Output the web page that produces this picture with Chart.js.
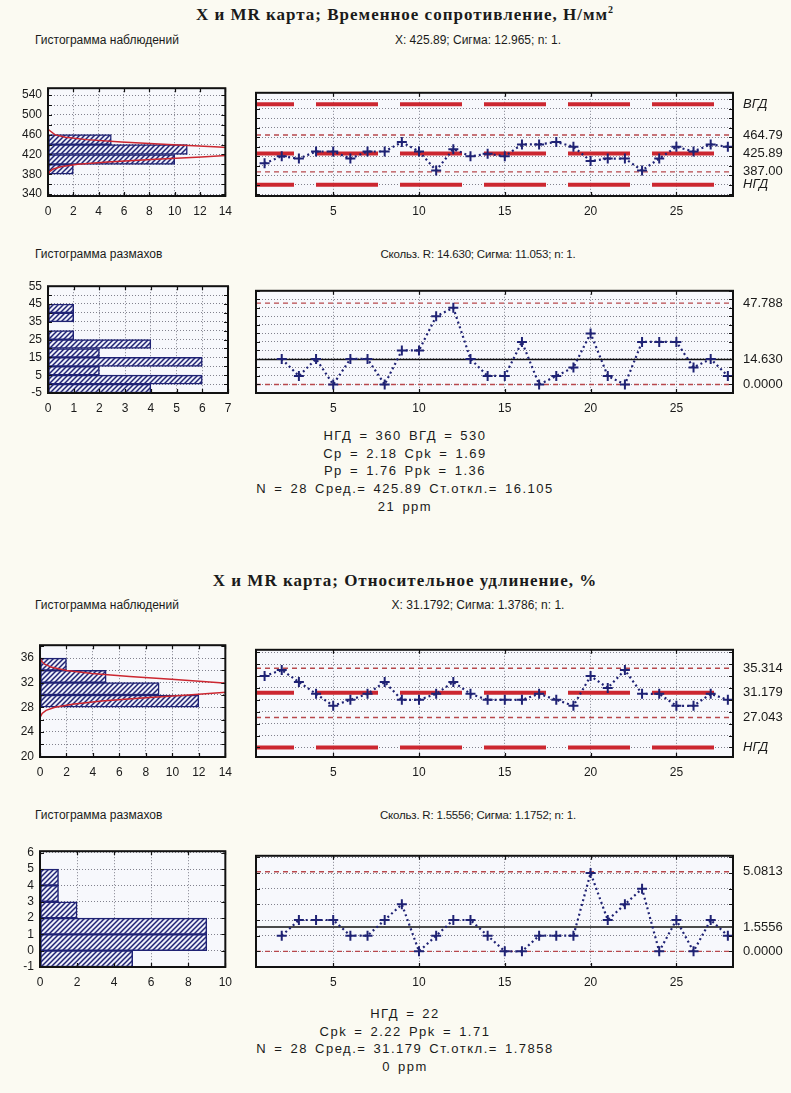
<!DOCTYPE html>
<html lang="ru">
<head>
<meta charset="utf-8">
<title>X и MR карта</title>
<script src="https://cdn.jsdelivr.net/npm/chart.js@4.4.1/dist/chart.umd.min.js"></script>
<style>
  body { margin: 0; background: #fbfaf2; font-family: "Liberation Sans", Arial, sans-serif; color: #1a1a1a; }
  #page { position: relative; width: 791px; height: 1093px; overflow: hidden; }
  canvas { position: absolute; }
  .t { position: absolute; white-space: nowrap; }
  .title { left: 0; width: 810px; text-align: center; font-family: "Liberation Serif", serif; font-weight: bold; font-size: 17px; line-height: 17px; letter-spacing: 1px; }
  .title sup { font-size: 10px; line-height: 0; }
  .sub { font-size: 12px; line-height: 12px; }
  .subr { font-size: 12px; line-height: 12px; text-align: center; left: 375px; width: 206px; }
  .subr.r { font-size: 11.5px; letter-spacing: -0.2px; }
  .stat { left: 0; width: 810px; text-align: center; font-size: 13px; line-height: 13px; letter-spacing: 1.5px; word-spacing: 2px; }
</style>
</head>
<body>
<div id="page">
  <div class="t title" style="top:6px">X и MR карта; Временное сопротивление, Н/мм<sup>2</sup></div>
  <div class="t sub" style="left:35px; top:34px">Гистограмма наблюдений</div>
  <div class="t subr" style="top:34px">X: 425.89; Сигма: 12.965; n: 1.</div>
  <div class="t sub" style="left:35px; top:248px">Гистограмма размахов</div>
  <div class="t subr r" style="top:248px">Скольз. R: 14.630; Сигма: 11.053; n: 1.</div>
  <div class="t stat" style="top:429px">НГД = 360 ВГД = 530</div>
  <div class="t stat" style="top:447px">Cp = 2.18 Cpk = 1.69</div>
  <div class="t stat" style="top:464px">Pp = 1.76 Ppk = 1.36</div>
  <div class="t stat" style="top:482px">N = 28 Сред.= 425.89 Ст.откл.= 16.105</div>
  <div class="t stat" style="top:500px">21 ppm</div>

  <div class="t title" style="top:572px">X и MR карта; Относительное удлинение, %</div>
  <div class="t sub" style="left:35px; top:599px">Гистограмма наблюдений</div>
  <div class="t subr" style="top:599px">X: 31.1792; Сигма: 1.3786; n: 1.</div>
  <div class="t sub" style="left:35px; top:809px">Гистограмма размахов</div>
  <div class="t subr r" style="top:809px">Скольз. R: 1.5556; Сигма: 1.1752; n: 1.</div>
  <div class="t stat" style="top:1007px">НГД = 22</div>
  <div class="t stat" style="top:1025px">Cpk = 2.22 Ppk = 1.71</div>
  <div class="t stat" style="top:1042px">N = 28 Сред.= 31.179 Ст.откл.= 1.7858</div>
  <div class="t stat" style="top:1060px">0 ppm</div>
</div>
<script>
// sample numbers
const samples = [1, 2, 3, 4, 5, 6, 7, 8, 9, 10, 11, 12, 13, 14, 15, 16, 17, 18, 19, 20, 21, 22, 23, 24, 25, 26, 27, 28]

// Временное сопротивление
const strengthX = [405, 420, 415, 430, 430, 415, 430, 430, 450, 430, 390, 435, 420, 425, 420, 445, 445, 450, 440, 410, 415, 415, 390, 415, 440, 430, 445, 440]
const strengthMR = [null, 15, 5, 15, 0, 15, 15, 0, 20, 20, 40, 45, 15, 5, 5, 25, 0, 5, 10, 30, 5, 0, 25, 25, 25, 10, 15, 5]
const strengthSpec = [530, 360]
const strengthCenter = 425.89
const strengthCtrl = [464.79, 387.00]
const strengthRightVals = [530, 464.79, 425.89, 387.00, 360]
const strengthRightLabels = ["ВГД", "464.79", "425.89", "387.00", "НГД"]
const strengthMRCenter = 14.630
const strengthMRCtrl = [47.788, 0]
const strengthMRRightVals = [47.788, 14.630, 0]
const strengthMRRightLabels = ["47.788", "14.630", "0.0000"]
const strengthBins = [390, 410, 430, 450]
const strengthCounts = [2, 10, 11, 5]
const strengthCurveY = [380, 385, 390, 395, 400, 405, 410, 415, 420, 425.89, 430, 435, 440, 445, 450, 455, 460, 470]
const strengthCurveN = [0.03, 0.12, 0.37, 1.0, 2.34, 4.7, 8.14, 12.1, 15.5, 17.2, 16.4, 13.5, 9.5, 5.8, 3.05, 1.38, 0.54, 0.05]
const strengthMRBins = [-2.5, 2.5, 7.5, 12.5, 17.5, 22.5, 27.5, 37.5, 42.5]
const strengthMRCounts = [4, 6, 2, 6, 2, 4, 1, 1, 1]

// Относительное удлинение
const elongX = [34, 35, 33, 31, 29, 30, 31, 33, 30, 30, 31, 33, 31, 30, 30, 30, 31, 30, 29, 34, 32, 35, 31, 31, 29, 29, 31, 30]
const elongMR = [null, 1, 2, 2, 2, 1, 1, 2, 3, 0, 1, 2, 2, 1, 0, 0, 1, 1, 1, 5, 2, 3, 4, 0, 2, 0, 2, 1]
const elongSpec = [22]
const elongCenter = 31.179
const elongCtrl = [35.314, 27.043]
const elongRightVals = [35.314, 31.179, 27.043, 22]
const elongRightLabels = ["35.314", "31.179", "27.043", "НГД"]
const elongMRCenter = 1.5556
const elongMRCtrl = [5.0813, 0]
const elongMRRightVals = [5.0813, 1.5556, 0]
const elongMRRightLabels = ["5.0813", "1.5556", "0.0000"]
const elongBins = [29, 31, 33, 35]
const elongCounts = [12, 9, 5, 2]
const elongCurveY = [26.5, 27, 27.5, 28, 28.5, 29, 29.5, 30, 30.5, 31.179, 31.5, 32, 32.5, 33, 33.5, 34, 34.5, 35, 35.5, 36]
const elongCurveN = [0.05, 0.16, 0.46, 1.13, 2.45, 4.65, 7.71, 11.2, 14.3, 16.2, 15.8, 13.6, 10.2, 6.77, 3.93, 2.0, 0.89, 0.35, 0.12, 0.04]
const elongMRBins = [-0.5, 0.5, 1.5, 2.5, 3.5, 4.5]
const elongMRCounts = [5, 9, 9, 2, 1, 1]

// tick lists
const sampleTicks = [5, 10, 15, 20, 25]
const strengthGrid = [340, 360, 380, 400, 420, 440, 460, 480, 500, 520, 540]
const strengthHistLabels = [340, 380, 420, 460, 500, 540]
const strengthMRGrid = [-5, 0, 5, 10, 15, 20, 25, 30, 35, 40, 45, 50, 55]
const strengthMRHistLabels = [-5, 5, 15, 25, 35, 45, 55]
const count14Ticks = [0, 2, 4, 6, 8, 10, 12, 14]
const count7Ticks = [0, 1, 2, 3, 4, 5, 6, 7]
const elongGrid = [22, 24, 26, 28, 30, 32, 34, 36, 38]
const elongHistGrid = [20, 22, 24, 26, 28, 30, 32, 34, 36, 38]
const elongHistLabels = [20, 24, 28, 32, 36]
const elongMRGrid = [-1, 0, 1, 2, 3, 4, 5, 6]
const count10Ticks = [0, 2, 4, 6, 8, 10]

const X_MIN = 0.5
const X_MAX = 28.3
const NAVY = "#1f2274"
const RED = "#cc2730"
const RED_THIN = "#b8484c"
const FONT = '"Liberation Sans", Arial, sans-serif'

Chart.defaults.font.family = FONT
Chart.defaults.font.size = 12
Chart.defaults.color = "#1a1a1a"

const page = document.getElementById("page")

// plot background, black frame and inward tick marks
const frame = {
  id: "frame",
  beforeDraw(chart) {
    const a = chart.chartArea
    const ctx = chart.ctx
    ctx.save()
    ctx.fillStyle = "#f7f8fc"
    ctx.fillRect(a.left, a.top, a.right - a.left, a.bottom - a.top)
    ctx.restore()
  },
  afterDraw(chart) {
    const a = chart.chartArea
    const ctx = chart.ctx
    const xs = chart.scales.x
    const ys = chart.scales.y
    ctx.save()
    ctx.strokeStyle = "#111"
    ctx.lineWidth = 1.2
    ctx.beginPath()
    xs.ticks.forEach(t => {
      const p = Math.round(xs.getPixelForValue(t.value)) + 0.5
      ctx.moveTo(p, a.bottom); ctx.lineTo(p, a.bottom - 4)
      ctx.moveTo(p, a.top); ctx.lineTo(p, a.top + 4)
    })
    ys.ticks.forEach(t => {
      const p = Math.round(ys.getPixelForValue(t.value)) + 0.5
      ctx.moveTo(a.left, p); ctx.lineTo(a.left + 4, p)
      ctx.moveTo(a.right, p); ctx.lineTo(a.right - 4, p)
    })
    ctx.stroke()
    ctx.lineWidth = 2
    ctx.strokeRect(a.left, a.top, a.right - a.left, a.bottom - a.top)
    ctx.restore()
  }
}

function hatch() {
  const c = document.createElement("canvas")
  c.width = 5
  c.height = 5
  const g = c.getContext("2d")
  g.fillStyle = "#eceef8"
  g.fillRect(0, 0, 5, 5)
  g.strokeStyle = NAVY
  g.lineWidth = 1.5
  g.beginPath()
  g.moveTo(0, 5); g.lineTo(5, 0)
  g.moveTo(-1, 1); g.lineTo(1, -1)
  g.moveTo(4, 6); g.lineTo(6, 4)
  g.stroke()
  return g.createPattern(c, "repeat")
}

// rect = plot area [left, top, right, bottom]; m = margins [left, top, right, bottom]
function makeCanvas(rect, m) {
  const cv = document.createElement("canvas")
  cv.width = rect[2] - rect[0] + m[0] + m[2]
  cv.height = rect[3] - rect[1] + m[1] + m[3]
  cv.style.left = (rect[0] - m[0]) + "px"
  cv.style.top = (rect[1] - m[1]) + "px"
  page.appendChild(cv)
  return cv
}

const fixed = (size, dim) => s => { s[dim] = size }
const setTicks = values => s => { s.ticks = values.map(v => ({ value: v })) }
const gridStyle = { color: "rgba(80,80,95,0.7)", lineWidth: 1, drawTicks: false, offset: false }
const gridBorder = { display: false, dash: [1, 2] }

function histogram(rect, m, bins, counts, curveY, curveN, yMin, yMax, yTicks, yLabeled, xMax, xTicks) {
  const cv = makeCanvas(rect, m)
  const datasets = []
  if (curveY) {
    datasets.push({
      type: "line",
      data: curveY.map((y, i) => ({ x: curveN[i], y: y })),
      borderColor: RED,
      borderWidth: 1.5,
      pointRadius: 0,
      tension: 0
    })
  }
  datasets.push({
    data: bins.map((b, i) => ({ y: b, x: counts[i] })),
    backgroundColor: hatch(),
    borderColor: NAVY,
    borderWidth: 1.5,
    borderSkipped: false,
    barPercentage: 1,
    categoryPercentage: 1
  })
  return new Chart(cv, {
    type: "bar",
    data: { datasets: datasets },
    options: {
      indexAxis: "y",
      responsive: false,
      animation: false,
      devicePixelRatio: 1,
      layout: { padding: { left: 0, top: m[1], right: m[2], bottom: 0 } },
      plugins: { legend: { display: false }, tooltip: { enabled: false } },
      scales: {
        x: {
          type: "linear", min: 0, max: xMax,
          grid: gridStyle, border: gridBorder,
          afterFit: fixed(m[3], "height"),
          afterBuildTicks: setTicks(xTicks),
          ticks: { autoSkip: false, maxRotation: 0, padding: 8 }
        },
        y: {
          type: "linear", min: yMin, max: yMax, offset: false,
          grid: gridStyle, border: gridBorder,
          afterFit: fixed(m[0], "width"),
          afterBuildTicks: setTicks(yTicks),
          ticks: { autoSkip: false, padding: 6, callback: v => yLabeled.includes(v) ? String(v) : "" }
        }
      }
    },
    plugins: [frame]
  })
}

function hLine(v, style) {
  return Object.assign({ data: [{ x: X_MIN, y: v }, { x: X_MAX, y: v }], pointRadius: 0, showLine: true }, style)
}

const thickRed = { borderColor: RED, borderWidth: 4, borderDash: [62, 22], borderDashOffset: 24, borderCapStyle: "butt" }
const thinRed = { borderColor: RED_THIN, borderWidth: 1.4, borderDash: [5, 4] }
const blackLine = { borderColor: "#111", borderWidth: 1.5 }

function controlChart(rect, m, values, yMin, yMax, yGrid, lines, rightVals, rightLabels) {
  const cv = makeCanvas(rect, m)
  const pts = samples.map((s, i) => ({ x: s, y: values[i] })).filter(p => p.y !== null)
  const datasets = [{
    data: pts,
    showLine: true,
    borderColor: NAVY,
    borderWidth: 2.2,
    borderDash: [2, 3],
    pointStyle: "cross",
    pointRadius: 5,
    pointBorderWidth: 2,
    pointBorderColor: NAVY
  }].concat(lines)
  return new Chart(cv, {
    type: "scatter",
    data: { datasets: datasets },
    options: {
      responsive: false,
      animation: false,
      devicePixelRatio: 1,
      layout: { padding: { left: 0, top: m[1], right: 0, bottom: 0 } },
      plugins: { legend: { display: false }, tooltip: { enabled: false } },
      scales: {
        x: {
          type: "linear", min: X_MIN, max: X_MAX,
          grid: gridStyle, border: gridBorder,
          afterFit: fixed(m[3], "height"),
          afterBuildTicks: setTicks(sampleTicks),
          ticks: { autoSkip: false, maxRotation: 0, padding: 8 }
        },
        y: {
          type: "linear", min: yMin, max: yMax,
          grid: gridStyle, border: gridBorder,
          afterFit: fixed(m[0], "width"),
          afterBuildTicks: setTicks(yGrid),
          ticks: { display: false }
        },
        yRight: {
          type: "linear", position: "right", min: yMin, max: yMax,
          grid: { drawOnChartArea: false, drawTicks: false },
          border: { display: false },
          afterFit: fixed(m[2], "width"),
          afterBuildTicks: setTicks(rightVals),
          ticks: {
            autoSkip: false, padding: 10,
            font: ctx => ({ family: FONT, size: 13, style: /ГД/.test(rightLabels[ctx.index]) ? "italic" : "normal" }),
            callback: (v, i) => rightLabels[i]
          }
        }
      }
    },
    plugins: [frame]
  })
}

// top block: Временное сопротивление
histogram([48, 85, 228, 196], [48, 10, 12, 26], strengthBins, strengthCounts, strengthCurveY, strengthCurveN,
  336, 554, strengthGrid, strengthHistLabels, 14, count14Ticks)

controlChart([256, 85, 733, 196], [10, 10, 58, 26], strengthX, 336, 554, strengthGrid,
  [
    hLine(strengthCtrl[0], thinRed), hLine(strengthCtrl[1], thinRed),
    hLine(strengthCenter, thickRed),
    hLine(strengthSpec[0], thickRed), hLine(strengthSpec[1], thickRed)
  ],
  strengthRightVals, strengthRightLabels)

histogram([48, 283, 228, 393], [48, 10, 12, 26], strengthMRBins, strengthMRCounts, null, null,
  -5, 55, strengthMRGrid, strengthMRHistLabels, 7, count7Ticks)

controlChart([256, 283, 733, 393], [10, 10, 58, 26], strengthMR, -5, 55, strengthMRGrid,
  [hLine(strengthMRCtrl[0], thinRed), hLine(strengthMRCtrl[1], thinRed), hLine(strengthMRCenter, blackLine)],
  strengthMRRightVals, strengthMRRightLabels)

// bottom block: Относительное удлинение
histogram([40, 642, 228, 757], [40, 10, 12, 26], elongBins, elongCounts, elongCurveY, elongCurveN,
  19.9, 38.1, elongHistGrid, elongHistLabels, 14, count14Ticks)

controlChart([256, 642, 733, 757], [10, 10, 58, 26], elongX, 20.4, 38.4, elongGrid,
  [
    hLine(elongCtrl[0], thinRed), hLine(elongCtrl[1], thinRed),
    hLine(elongCenter, thickRed), hLine(elongSpec[0], thickRed)
  ],
  elongRightVals, elongRightLabels)

histogram([40, 848, 228, 967], [40, 10, 12, 26], elongMRBins, elongMRCounts, null, null,
  -1, 6.1, elongMRGrid, elongMRGrid, 10, count10Ticks)

controlChart([256, 848, 733, 967], [10, 10, 58, 26], elongMR, -1, 6.1, elongMRGrid,
  [hLine(elongMRCtrl[0], thinRed), hLine(elongMRCtrl[1], thinRed), hLine(elongMRCenter, blackLine)],
  elongMRRightVals, elongMRRightLabels)
</script>
</body>
</html>
